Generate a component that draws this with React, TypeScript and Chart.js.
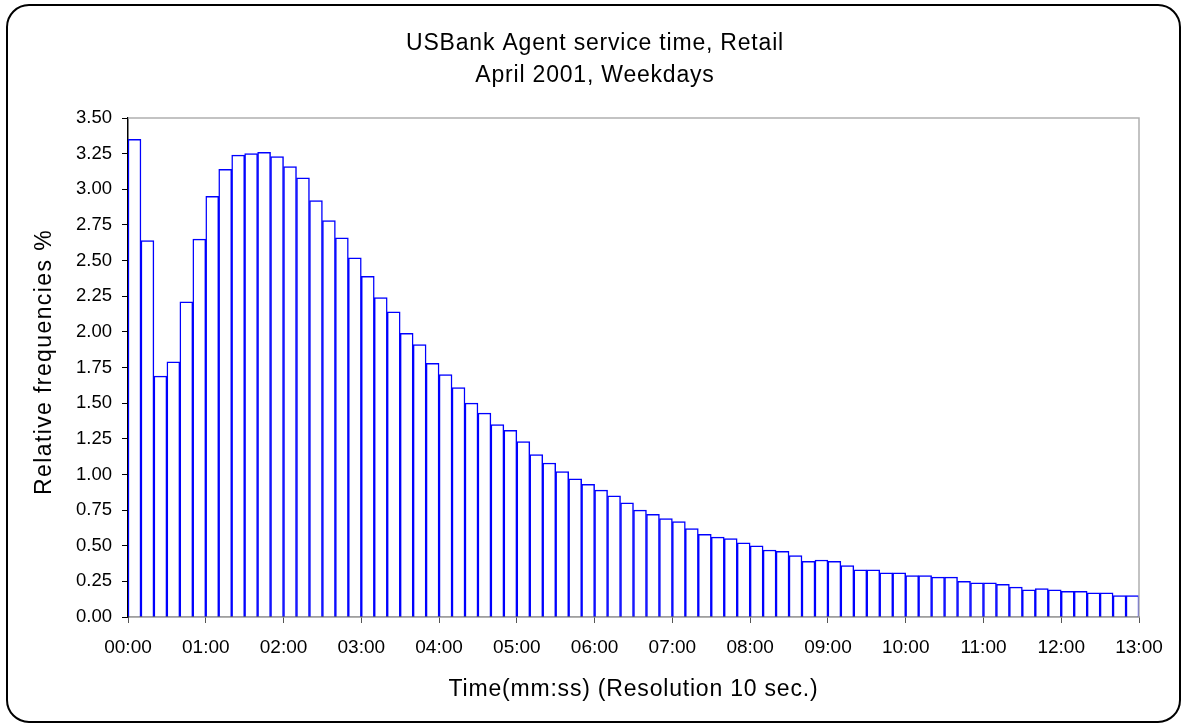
import React, { useEffect, useRef } from "react";
import { Chart, registerables } from "chart.js";

Chart.register(...registerables);

const titleLines = ["USBank Agent service time, Retail", "April 2001, Weekdays"];
const xTitle = "Time(mm:ss) (Resolution 10 sec.)";
const yTitle = "Relative frequencies %";

// one bin every 10 seconds, labelled by bin start (mm:ss)
const binLabels: string[] = Array.from({ length: 78 }, (_, i) => {
  const s = i * 10;
  const mm = String(Math.floor(s / 60)).padStart(2, "0");
  const ss = String(s % 60).padStart(2, "0");
  return `${mm}:${ss}`;
});

const frequencies = [
  3.35, 2.64, 1.69, 1.79, 2.21, 2.65, 2.95, 3.14, 3.24, 3.25,
  3.26, 3.23, 3.16, 3.08, 2.92, 2.78, 2.66, 2.52, 2.39, 2.24,
  2.14, 1.99, 1.91, 1.78, 1.70, 1.61, 1.50, 1.43, 1.35, 1.31,
  1.23, 1.14, 1.08, 1.02, 0.97, 0.93, 0.89, 0.85, 0.80, 0.75,
  0.72, 0.69, 0.67, 0.62, 0.58, 0.56, 0.55, 0.52, 0.50, 0.47,
  0.46, 0.43, 0.39, 0.40, 0.39, 0.36, 0.33, 0.33, 0.31, 0.31,
  0.29, 0.29, 0.28, 0.28, 0.25, 0.24, 0.24, 0.23, 0.21, 0.19,
  0.20, 0.19, 0.18, 0.18, 0.17, 0.17, 0.15, 0.15,
];

const minuteTicks = [
  "00:00", "01:00", "02:00", "03:00", "04:00", "05:00", "06:00",
  "07:00", "08:00", "09:00", "10:00", "11:00", "12:00", "13:00",
];

const FONT = "'Liberation Sans', Arial, sans-serif";

const framePlugin = {
  id: "frame",
  beforeDraw(chart: any) {
    const ctx = chart.ctx;
    ctx.save();
    ctx.fillStyle = "#ffffff";
    ctx.fillRect(0, 0, chart.width, chart.height);
    ctx.restore();
  },
  afterDraw(chart: any) {
    const ctx = chart.ctx;
    const { left, right, top, bottom } = chart.chartArea;
    ctx.save();
    // gray top & right border of plot area
    ctx.strokeStyle = "#b0b0b0";
    ctx.lineWidth = 1.5;
    ctx.beginPath();
    ctx.moveTo(left, top);
    ctx.lineTo(right, top);
    ctx.lineTo(right, bottom);
    ctx.stroke();

    // outer rounded frame
    ctx.strokeStyle = "#000000";
    ctx.lineWidth = 2;
    ctx.beginPath();
    (ctx as any).roundRect(7, 5, 1173, 717, 22);
    ctx.stroke();

    // titles
    ctx.fillStyle = "#000000";
    ctx.font = `23px ${FONT}`;
    (ctx as any).letterSpacing = "0.8px";
    ctx.textAlign = "center";
    ctx.textBaseline = "alphabetic";
    ctx.fillText(titleLines[0], 595, 50);
    ctx.fillText(titleLines[1], 595, 82);
    ctx.fillText(xTitle, (left + right) / 2, 696);

    ctx.translate(51, 362);
    ctx.rotate(-Math.PI / 2);
    (ctx as any).letterSpacing = "1.4px";
    ctx.fillText(yTitle, 0, 0);
    ctx.restore();
  },
};

export default function App() {
  const canvasRef = useRef<HTMLCanvasElement | null>(null);

  useEffect(() => {
    const canvas = canvasRef.current;
    if (!canvas) return;
    const chart = new Chart(canvas, {
      type: "bar",
      data: {
        labels: binLabels,
        datasets: [
          {
            data: frequencies,
            backgroundColor: "#ffffff",
            borderColor: "#0000ff",
            borderWidth: 1.5,
            barPercentage: 1,
            categoryPercentage: 1,
            xAxisID: "x",
            yAxisID: "y",
          },
        ],
      },
      options: {
        responsive: false,
        animation: false,
        layout: { padding: { left: 0, top: 118, right: 46, bottom: 0 } },
        plugins: {
          legend: { display: false },
          title: { display: false },
          tooltip: { enabled: false },
        },
        scales: {
          x: {
            type: "category",
            display: false,
            offset: true,
          },
          xm: {
            type: "linear",
            position: "bottom",
            min: 0,
            max: 13,
            offset: false,
            afterFit: (s: any) => {
              s.height = 108;
            },
            ticks: {
              stepSize: 1,
              autoSkip: false,
              maxRotation: 0,
              padding: 13,
              color: "#000000",
              font: { family: FONT, size: 19 },
              callback: (v: any) => minuteTicks[Math.round(Number(v))] ?? "",
            },
            grid: {
              offset: false,
              drawOnChartArea: false,
              drawTicks: true,
              tickLength: 6,
              tickColor: "#555555",
            },
            border: { color: "#666666", width: 1.5 },
          },
          y: {
            type: "linear",
            min: 0,
            max: 3.5,
            afterFit: (s: any) => {
              s.width = 128;
            },
            ticks: {
              stepSize: 0.25,
              padding: 10,
              color: "#000000",
              font: { family: FONT, size: 18.5 },
              callback: (v: any) => Number(v).toFixed(2),
            },
            grid: {
              drawOnChartArea: false,
              drawTicks: true,
              tickLength: 6,
              tickColor: "#000000",
            },
            border: { color: "#000000", width: 1.5 },
          },
        },
      },
      plugins: [framePlugin],
    });
    return () => chart.destroy();
  }, []);

  return (
    <div style={{ position: "fixed", left: 0, top: 0, width: 1185, height: 725 }}>
      <canvas ref={canvasRef} width={1185} height={725} style={{ display: "block" }} />
    </div>
  );
}
